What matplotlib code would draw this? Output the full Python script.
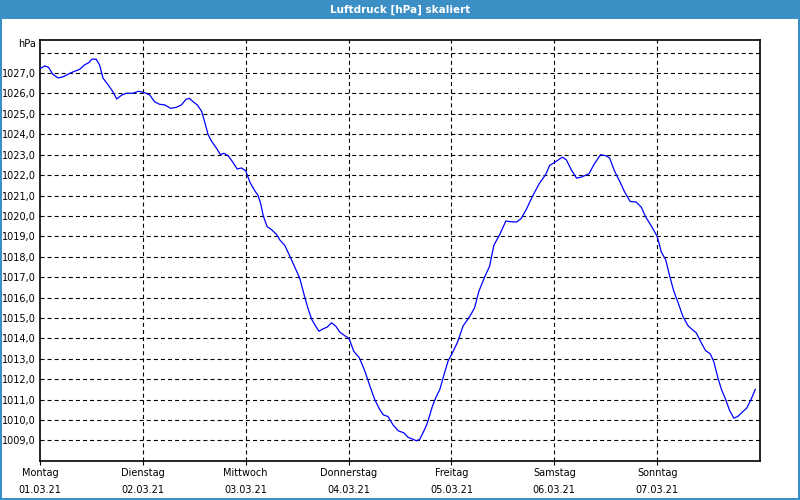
import matplotlib
matplotlib.use("Agg")
import matplotlib.pyplot as plt
from matplotlib.patches import Rectangle
from matplotlib.transforms import blended_transform_factory

# hours since Monday 01.03.21 00:00
hours = [0.2, 1.1, 2.0, 3.0, 4.2, 5.4, 7.3, 9.3, 10.4, 11.4, 12.1, 13.1, 13.9, 14.7,
         15.9, 17.0, 17.9, 19.0, 20.1, 21.7, 23.0, 24.4, 25.6, 26.7, 27.9, 29.1, 30.5,
         31.8, 33.0, 34.1, 34.9, 35.7, 36.7, 37.7, 38.5, 39.2, 40.0, 41.2, 42.1, 42.9,
         43.9, 44.9, 46.0, 47.0, 48.0, 49.0, 50.1, 50.9, 51.5, 52.1, 53.0, 54.0, 55.2,
         56.0, 57.1, 58.3, 59.5, 60.6, 61.8, 62.6, 63.4, 64.4, 65.1, 66.1, 67.0, 68.0,
         69.0, 70.0, 71.1, 72.1, 73.2, 74.5, 75.8, 77.0, 78.1, 79.3, 80.1, 81.2, 82.4,
         83.6, 84.9, 85.9, 87.1, 87.8, 88.6, 89.5, 90.2, 90.6, 91.6, 92.5, 93.3, 94.1,
         95.2, 96.4, 97.5, 98.7, 100.3, 101.4, 102.4, 103.8, 104.9, 105.9, 107.3, 108.7,
         109.6, 111.2, 112.3, 113.5, 115.0, 116.6, 118.0, 118.9, 120.5, 121.9, 122.8,
         124.0, 125.2, 126.3, 128.1, 129.4, 130.8, 132.0, 132.9, 134.1, 135.3, 136.4,
         137.7, 139.1, 140.3, 141.3, 142.6, 144.0, 145.0, 146.0, 146.9, 147.9, 148.9,
         150.0, 151.2, 152.4, 153.1, 154.3, 155.3, 156.4, 157.2, 158.2, 159.0, 160.0,
         160.9, 161.9, 162.8, 164.0, 164.9, 165.9, 166.9]

pressure = [1027.24, 1027.35, 1027.28, 1026.94, 1026.76, 1026.82, 1027.02, 1027.19,
            1027.40, 1027.51, 1027.68, 1027.68, 1027.40, 1026.75, 1026.42, 1026.09,
            1025.73, 1025.91, 1026.01, 1026.01, 1026.11, 1026.04, 1025.93, 1025.60,
            1025.47, 1025.44, 1025.27, 1025.32, 1025.44, 1025.72, 1025.76, 1025.60,
            1025.44, 1025.13, 1024.55, 1024.00, 1023.67, 1023.31, 1023.00, 1023.07,
            1022.95, 1022.66, 1022.30, 1022.35, 1022.21, 1021.64, 1021.24, 1021.00,
            1020.59, 1020.00, 1019.47, 1019.33, 1019.09, 1018.81, 1018.56, 1018.03,
            1017.47, 1016.95, 1016.00, 1015.42, 1014.93, 1014.57, 1014.35, 1014.47,
            1014.55, 1014.76, 1014.60, 1014.30, 1014.13, 1014.00, 1013.37, 1013.05,
            1012.40, 1011.65, 1011.00, 1010.50, 1010.25, 1010.17, 1009.75, 1009.47,
            1009.37, 1009.15, 1009.05, 1008.98, 1009.05, 1009.43, 1009.75, 1010.00,
            1010.70, 1011.16, 1011.50, 1012.10, 1012.88, 1013.36, 1013.85, 1014.60,
            1015.08, 1015.50, 1016.30, 1017.03, 1017.53, 1018.56, 1019.10, 1019.75,
            1019.72, 1019.70, 1019.88, 1020.33, 1021.00, 1021.62, 1022.03, 1022.47,
            1022.68, 1022.88, 1022.75, 1022.25, 1021.85, 1021.90, 1022.07, 1022.57,
            1023.00, 1022.95, 1022.84, 1022.18, 1021.68, 1021.18, 1020.71, 1020.68,
            1020.43, 1019.96, 1019.52, 1019.00, 1018.22, 1017.85, 1017.07, 1016.30,
            1015.74, 1015.08, 1014.62, 1014.39, 1014.28, 1013.78, 1013.40, 1013.24,
            1012.87, 1012.05, 1011.50, 1011.00, 1010.47, 1010.09, 1010.17, 1010.41,
            1010.58, 1011.00, 1011.50]

day_names = ["Montag", "Dienstag", "Mittwoch", "Donnerstag", "Freitag", "Samstag", "Sonntag"]
day_dates = ["01.03.21", "02.03.21", "03.03.21", "04.03.21", "05.03.21", "06.03.21", "07.03.21"]
day_hours = [0, 24, 48, 72, 96, 120, 144]
y_ticks = list(range(1009, 1029))

title = "Luftdruck [hPa] skaliert"
unit = "hPa"

blue = "#3b8fc4"
plt.rcParams["lines.scale_dashes"] = False
plt.rcParams["font.family"] = "DejaVu Sans"

fig = plt.figure(figsize=(8, 5), dpi=100)
fig.patch.set_facecolor("white")

# title bar and window border
fig.patches.append(Rectangle((0, 1 - 19 / 500), 1, 19 / 500, transform=fig.transFigure,
                             facecolor=blue, edgecolor="none", zorder=0))
fig.patches.append(Rectangle((0, 0), 2 / 800, 1, transform=fig.transFigure,
                             facecolor=blue, edgecolor="none", zorder=0))
fig.patches.append(Rectangle((1 - 2 / 800, 0), 2 / 800, 1, transform=fig.transFigure,
                             facecolor=blue, edgecolor="none", zorder=0))
fig.patches.append(Rectangle((0, 0), 1, 2 / 500, transform=fig.transFigure,
                             facecolor=blue, edgecolor="none", zorder=0))
fig.text(0.5, 1 - 9.5 / 500, title, color="white", fontsize=7.5, fontweight="bold",
         ha="center", va="center")

ax = fig.add_axes([40 / 800, 1 - 461 / 500, 720 / 800, 421 / 500])
ax.set_facecolor("white")

ax.plot(hours, pressure, color="#0000ff", lw=0.9, zorder=3)

ax.set_xlim(0, 168)
ax.set_ylim(1007.99, 1028.62)

# grid
dash = (0, (2.9, 2.2))
for h in day_hours[1:]:
    ax.axvline(h, color="black", lw=0.8, linestyle=dash, zorder=1)
for v in y_ticks:
    ax.axhline(v, color="black", lw=0.8, linestyle=dash, zorder=1)

ax.set_yticks(y_ticks[:-1])
ax.set_yticklabels([f"{v},0" for v in y_ticks[:-1]], fontsize=7)
ax.tick_params(axis="y", length=0, pad=3)

ax.set_xticks(day_hours)
ax.set_xticklabels([f"{n}\n{d}" for n, d in zip(day_names, day_dates)], fontsize=7,
                   linespacing=1.85)
ax.tick_params(axis="x", length=3, width=0.8, pad=2, direction="out")

for s in ax.spines.values():
    s.set_linewidth(1.2)
    s.set_color("black")

trans = blended_transform_factory(ax.transAxes, ax.transData)
ax.text(-4 / 720, 1028.43, unit, transform=trans, ha="right", va="center", fontsize=7)

fig.savefig("out.png", dpi=100, facecolor=fig.get_facecolor())
